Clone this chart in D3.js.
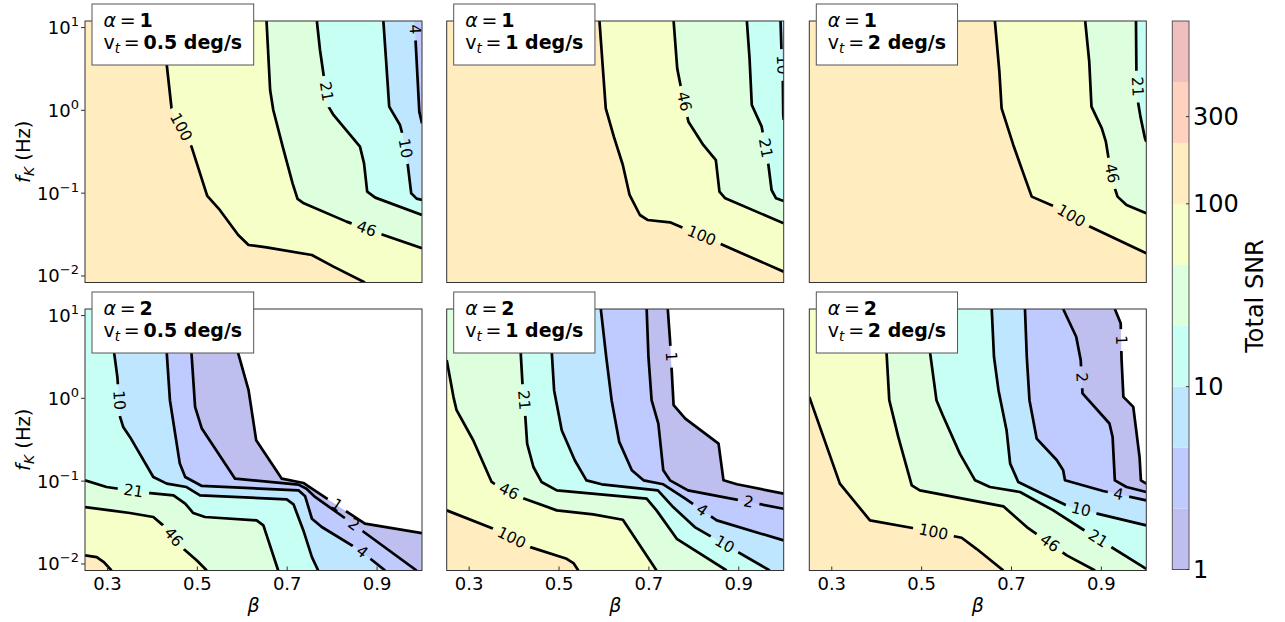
<!DOCTYPE html>
<html><head><meta charset="utf-8">
<script src="https://cdn.jsdelivr.net/npm/d3@7"></script>
<style>body{margin:0;background:#fff} svg{display:block} text{font-family:"DejaVu Sans",sans-serif}</style>
</head><body><svg id="c" width="1285" height="622"></svg>
<script>
// ---------------- data ----------------
const levels = [1, 2.154, 4.642, 10, 21.54, 46.42, 100, 215.4, 464.2, 1000];
const cbarTicks = [1, 10, 100, 300];
const betaTicks = [0.3, 0.5, 0.7, 0.9];
const fkTicks = [0.01, 0.1, 1, 10];
const fkTickExp = ["\u22122", "\u22121", "0", "1"];
const alphaVals = ["1", "1", "1", "2", "2", "2"];
const vtVals = ["0.5", "1", "2", "0.5", "1", "2"];

// contour lines: lv = index into levels, txt = inline label,
// pts = [beta, log10(fK)], lab = label position [beta, log10(fK)]
const contoursA1V05 = [
 {lv:2, txt:"4", lab:[0.988,0.978], pts:[[0.983,1.08],[0.986,0.809],[0.994,-0.016],[1.0,-0.157]]},
 {lv:3, txt:"10", lab:[0.962,-0.459], pts:[[0.914,1.08],[0.920,0.608],[0.927,0.045],[0.951,-0.177],[0.957,-0.298],[0.967,-0.599],[0.976,-1.002],[0.988,-1.066],[1.0,-1.082]]},
 {lv:4, txt:"21", lab:[0.786,0.226], pts:[[0.766,1.08],[0.773,0.729],[0.781,0.427],[0.792,0.045],[0.803,-0.056],[0.862,-0.438],[0.871,-0.640],[0.878,-0.982],[0.896,-1.054],[1.0,-1.264]]},
 {lv:5, txt:"46", lab:[0.877,-1.425], pts:[[0.654,1.08],[0.662,0.246],[0.669,0.004],[0.690,-0.438],[0.712,-0.881],[0.723,-1.070],[0.737,-1.123],[0.832,-1.344],[0.903,-1.485],[1.0,-1.666]]},
 {lv:6, txt:"100", lab:[0.465,-0.197], pts:[[0.428,1.08],[0.432,0.548],[0.443,0.004],[0.487,-0.438],[0.522,-1.034],[0.550,-1.203],[0.591,-1.505],[0.614,-1.626],[0.654,-1.654],[0.755,-1.747],[0.803,-1.887],[0.873,-2.08]]}
];
const contoursA1V1 = [
 {lv:3, txt:"10", lab:[0.992,0.548], pts:[[0.993,1.08],[0.995,0.729],[0.998,0.387],[0.999,-0.056],[1.0,-0.116]]},
 {lv:4, txt:"21", lab:[0.957,-0.458], pts:[[0.918,1.08],[0.924,0.628],[0.929,0.065],[0.951,-0.197],[0.966,-0.660],[0.973,-0.962],[0.983,-1.062],[1.0,-1.095]]},
 {lv:5, txt:"46", lab:[0.777,0.105], pts:[[0.755,1.08],[0.763,0.507],[0.771,0.286],[0.788,-0.137],[0.821,-0.418],[0.849,-0.600],[0.857,-0.982],[0.870,-1.062],[1.0,-1.364]]},
 {lv:6, txt:"100", lab:[0.818,-1.505], pts:[[0.590,1.08],[0.597,0.548],[0.604,0.024],[0.622,-0.318],[0.642,-0.660],[0.657,-1.022],[0.680,-1.264],[0.697,-1.324],[0.747,-1.352],[0.769,-1.404],[0.851,-1.594],[1.0,-1.948]]}
];
const contoursA1V2 = [
 {lv:4, txt:"21", lab:[0.979,0.286], pts:[[0.977,1.08],[0.978,0.467],[0.982,0.085],[0.987,-0.076],[0.997,-0.338],[1.0,-0.378]]},
 {lv:5, txt:"46", lab:[0.923,-0.760], pts:[[0.864,1.08],[0.873,0.588],[0.878,0.045],[0.901,-0.217],[0.910,-0.378],[0.916,-0.579],[0.930,-0.942],[0.936,-1.042],[0.956,-1.143],[1.0,-1.243]]},
 {lv:6, txt:"100", lab:[0.834,-1.264], pts:[[0.663,1.08],[0.673,0.467],[0.678,0.024],[0.704,-0.418],[0.725,-0.740],[0.745,-1.042],[0.797,-1.163],[0.867,-1.384],[1.0,-1.726]]}
];
const contoursA2V05 = [
 {lv:0, txt:"1", lab:[0.810,-1.292], pts:[[0.586,1.08],[0.591,0.543],[0.614,0.099],[0.631,-0.506],[0.688,-0.970],[0.736,-1.022],[0.755,-1.091],[0.873,-1.514],[1.0,-1.627]]},
 {lv:1, txt:"2", lab:[0.844,-1.554], pts:[[0.485,1.08],[0.487,0.543],[0.495,-0.103],[0.510,-0.365],[0.584,-0.970],[0.725,-1.042],[0.743,-1.091],[0.762,-1.191],[0.825,-1.433],[0.988,-2.08]]},
 {lv:2, txt:"4", lab:[0.866,-1.857], pts:[[0.430,1.08],[0.432,0.543],[0.439,-0.022],[0.461,-0.788],[0.473,-0.950],[0.510,-1.058],[0.725,-1.111],[0.740,-1.183],[0.755,-1.454],[0.777,-1.554],[0.862,-1.837],[0.918,-2.08]]},
 {lv:3, txt:"10", lab:[0.324,-0.022], pts:[[0.309,1.08],[0.315,0.543],[0.322,0.260],[0.328,-0.224],[0.335,-0.345],[0.350,-0.466],[0.402,-0.950],[0.432,-1.030],[0.476,-1.071],[0.506,-1.171],[0.699,-1.220],[0.714,-1.280],[0.736,-1.595],[0.755,-1.917],[0.769,-2.08]]},
 {lv:4, txt:"21", lab:[0.358,-1.111], pts:[[0.25,-0.990],[0.298,-1.071],[0.384,-1.139],[0.447,-1.171],[0.473,-1.272],[0.491,-1.385],[0.517,-1.433],[0.632,-1.474],[0.647,-1.534],[0.680,-2.08]]},
 {lv:5, txt:"46", lab:[0.447,-1.675], pts:[[0.25,-1.313],[0.306,-1.353],[0.350,-1.385],[0.402,-1.433],[0.424,-1.534],[0.469,-1.817],[0.499,-1.958],[0.521,-2.08]]},
 {lv:6, txt:null, lab:null, pts:[[0.25,-1.897],[0.276,-1.918],[0.292,-1.978],[0.309,-2.08]]}
];
const contoursA2V1 = [
 {lv:0, txt:"1", lab:[0.747,0.502], pts:[[0.742,1.08],[0.747,0.704],[0.755,-0.083],[0.781,-0.244],[0.855,-0.546],[0.866,-0.990],[0.896,-1.038],[1.0,-1.151]]},
 {lv:1, txt:"2", lab:[0.922,-1.252], pts:[[0.695,1.08],[0.699,0.502],[0.706,-0.022],[0.721,-0.304],[0.732,-0.869],[0.747,-0.990],[0.787,-1.111],[1.0,-1.333]]},
 {lv:2, txt:"4", lab:[0.818,-1.353], pts:[[0.593,1.08],[0.605,0.502],[0.617,-0.022],[0.634,-0.526],[0.662,-0.869],[0.688,-0.990],[0.732,-1.038],[0.781,-1.212],[0.851,-1.474],[1.0,-1.716]]},
 {lv:3, txt:"10", lab:[0.869,-1.756], pts:[[0.480,1.08],[0.484,0.543],[0.489,0.099],[0.506,-0.385],[0.535,-0.748],[0.561,-0.990],[0.595,-1.038],[0.720,-1.111],[0.754,-1.313],[0.802,-1.555],[0.969,-2.08]]},
 {lv:4, txt:"21", lab:[0.419,-0.022], pts:[[0.412,1.08],[0.415,0.522],[0.419,0.139],[0.425,-0.224],[0.429,-0.546],[0.443,-0.829],[0.461,-1.010],[0.495,-1.111],[0.695,-1.212],[0.717,-1.353],[0.762,-1.696],[0.873,-2.08]]},
 {lv:5, txt:"46", lab:[0.389,-1.119], pts:[[0.25,0.462],[0.265,0.018],[0.272,-0.143],[0.309,-0.506],[0.350,-1.010],[0.365,-1.063],[0.417,-1.200],[0.495,-1.353],[0.576,-1.401],[0.642,-1.466],[0.658,-1.595],[0.717,-2.08]]},
 {lv:6, txt:"100", lab:[0.395,-1.676], pts:[[0.25,-1.353],[0.354,-1.575],[0.436,-1.797],[0.517,-1.938],[0.532,-1.990],[0.543,-2.08]]}
];
const contoursA2V2 = [
 {lv:0, txt:"1", lab:[0.942,0.704], pts:[[0.930,1.08],[0.943,0.906],[0.945,0.462],[0.949,0.018],[0.971,-0.103],[0.985,-0.708],[0.988,-0.990],[1.0,-1.030]]},
 {lv:1, txt:"2", lab:[0.851,0.252], pts:[[0.815,1.08],[0.844,0.744],[0.854,0.462],[0.858,0.059],[0.918,-0.304],[0.925,-0.466],[0.930,-0.990],[0.956,-1.071],[1.0,-1.131]]},
 {lv:2, txt:"4", lab:[0.938,-1.159], pts:[[0.730,1.08],[0.734,0.502],[0.740,-0.022],[0.756,-0.486],[0.801,-0.748],[0.815,-0.869],[0.819,-0.990],[0.904,-1.119],[1.0,-1.232]]},
 {lv:3, txt:"10", lab:[0.854,-1.361], pts:[[0.656,1.08],[0.661,0.502],[0.671,0.099],[0.689,-0.385],[0.697,-0.788],[0.715,-1.010],[0.771,-1.159],[0.830,-1.313],[1.0,-1.534]]},
 {lv:4, txt:"21", lab:[0.890,-1.716], pts:[[0.515,1.08],[0.519,0.543],[0.533,-0.022],[0.547,-0.204],[0.585,-0.667],[0.619,-0.990],[0.652,-1.071],[0.719,-1.131],[0.793,-1.353],[0.860,-1.587],[1.0,-2.059]]},
 {lv:5, txt:"46", lab:[0.784,-1.756], pts:[[0.420,1.08],[0.422,0.543],[0.428,-0.022],[0.448,-0.466],[0.478,-1.050],[0.496,-1.111],[0.682,-1.304],[0.734,-1.555],[0.823,-1.897],[0.886,-2.08]]},
 {lv:6, txt:"100", lab:[0.526,-1.623], pts:[[0.25,0.018],[0.318,-1.030],[0.385,-1.474],[0.489,-1.575],[0.589,-1.684],[0.622,-1.817],[0.682,-2.08]]}
];
const allContours = [contoursA1V05, contoursA1V1, contoursA1V2, contoursA2V05, contoursA2V1, contoursA2V2];

// ---------------- layout / style ----------------
const colX = [85, 446.7, 809.3], rowY = [21, 309], PW = 337, PH = 261.5;
const xDom = [0.25, 1.0], yDom = [1/120, 12];
const ALPHA = 0.25;

function jet(t){
  const seg = pts => { for (let i=0;i<pts.length-1;i++){ const [a,va]=pts[i],[b,vb]=pts[i+1]; if (t>=a && t<=b) return va+(vb-va)*(t-a)/(b-a);} return pts[pts.length-1][1]; };
  return [seg([[0,0],[0.35,0],[0.66,1],[0.89,1],[1,0.5]]),
          seg([[0,0],[0.125,0],[0.375,1],[0.64,1],[0.91,0],[1,0]]),
          seg([[0,0.5],[0.11,1],[0.34,1],[0.65,0],[1,0]])];
}
function bandColor(i){
  const c = jet((i+0.5)/(levels.length-1));
  const f = v => Math.round(255*(1-ALPHA) + 255*ALPHA*v);
  return `rgb(${f(c[0])},${f(c[1])},${f(c[2])})`;
}

const svg = d3.select("#c");
const defs = svg.append("defs");

allContours.forEach((contours, idx) => {
  const col = idx % 3, row = Math.floor(idx / 3);
  const x0 = colX[col], y0 = rowY[row], x1 = x0 + PW, y1 = y0 + PH;
  const xs = d3.scaleLinear().domain(xDom).range([x0, x1]).clamp(true);
  const ys = d3.scaleLog().domain(yDom).range([y1, y0]).clamp(true);
  const P = p => [xs(p[0]), ys(Math.pow(10, p[1]))];

  defs.append("clipPath").attr("id", "clip" + idx)
    .append("rect").attr("x", x0).attr("y", y0).attr("width", PW).attr("height", PH);
  const g = svg.append("g").attr("clip-path", `url(#clip${idx})`);
  const minLv = d3.min(contours, c => c.lv);
  g.append("rect").attr("x", x0).attr("y", y0).attr("width", PW).attr("height", PH)
    .attr("fill", minLv > 0 ? bandColor(minLv - 1) : "#fff");

  const corners = [[x0,y0],[x1,y0],[x1,y1],[x0,y1]];
  const perim = ([x,y]) => {
    const d = [Math.abs(y-y0), Math.abs(x-x1), Math.abs(y-y1), Math.abs(x-x0)];
    const e = d.indexOf(Math.min(...d));
    if (e === 0) return (x-x0)/PW;
    if (e === 1) return 1 + (y-y0)/PH;
    if (e === 2) return 2 + (x1-x)/PW;
    return 3 + (y1-y)/PH;
  };
  const sorted = contours.slice().sort((a,b) => a.lv - b.lv);
  sorted.forEach(c => {
    const pts = c.pts.map(P);
    const tE = perim(pts[pts.length-1]);
    let tS = perim(pts[0]); if (tS <= tE) tS += 4;
    const poly = pts.slice();
    for (let k = Math.floor(tE) + 1; k < tS; k++) poly.push(corners[k % 4]);
    g.append("path").attr("d", "M" + poly.map(p => p.join(",")).join("L") + "Z")
      .attr("fill", bandColor(c.lv));
  });

  const line = d3.line();
  sorted.forEach((c, j) => {
    const pts = c.pts.map(P);
    const mid = `mask${idx}_${j}`;
    const mask = defs.append("mask").attr("id", mid).attr("maskUnits", "userSpaceOnUse")
      .attr("x", 0).attr("y", 0).attr("width", 1285).attr("height", 622);
    mask.append("rect").attr("x", 0).attr("y", 0).attr("width", 1285).attr("height", 622).attr("fill", "#fff");
    g.append("path").attr("d", line(pts)).attr("fill", "none").attr("stroke", "#000")
      .attr("stroke-width", 2.7).attr("stroke-linejoin", "round").attr("mask", `url(#${mid})`);
    if (c.lab) {
      const L = P(c.lab);
      let best = null;
      for (let i = 0; i < pts.length - 1; i++) {
        const a = pts[i], b = pts[i+1], dx = b[0]-a[0], dy = b[1]-a[1], l2 = dx*dx + dy*dy;
        let t = l2 ? ((L[0]-a[0])*dx + (L[1]-a[1])*dy) / l2 : 0;
        t = Math.max(0, Math.min(1, t));
        const q = [a[0]+t*dx, a[1]+t*dy], d = (q[0]-L[0])**2 + (q[1]-L[1])**2;
        if (!best || d < best.d) best = {d, q, ang: Math.atan2(dy, dx) * 180 / Math.PI};
      }
      let ang = best.ang; if (ang > 90) ang -= 180; if (ang <= -90) ang += 180;
      const tr = `translate(${best.q[0]},${best.q[1]}) rotate(${ang})`;
      const t = g.append("text").attr("transform", tr).attr("text-anchor", "middle")
        .attr("dominant-baseline", "central").attr("font-size", 15.5).attr("fill", "#000").text(c.txt);
      const tw = t.node().getComputedTextLength();
      mask.append("rect").attr("x", -tw/2 - 6).attr("y", -8).attr("width", tw + 12).attr("height", 16)
        .attr("transform", tr).attr("fill", "#000");
    }
  });

  svg.append("rect").attr("x", x0).attr("y", y0).attr("width", PW).attr("height", PH)
    .attr("fill", "none").attr("stroke", "#333").attr("stroke-width", 1);

  // axes
  if (row === 1) {
    betaTicks.forEach(v => {
      svg.append("line").attr("x1", xs(v)).attr("x2", xs(v)).attr("y1", y1).attr("y2", y1 - 4)
        .attr("stroke", "#333").attr("stroke-width", 1);
      svg.append("text").attr("x", xs(v)).attr("y", 589.5).attr("text-anchor", "middle")
        .attr("font-size", 18).text(d3.format(".1f")(v));
    });
    svg.append("text").attr("x", (x0 + x1) / 2).attr("y", 612).attr("text-anchor", "middle")
      .attr("font-size", 19).attr("font-style", "italic").text("β");
  }
  if (col === 0) {
    fkTicks.forEach((v, i) => {
      svg.append("line").attr("x1", x0 - 4).attr("x2", x0).attr("y1", ys(v)).attr("y2", ys(v))
        .attr("stroke", "#333").attr("stroke-width", 1);
      const t = svg.append("text").attr("x", x0 - 6).attr("y", ys(v) + 6.5).attr("text-anchor", "end").attr("font-size", 18);
      t.append("tspan").text("10");
      t.append("tspan").attr("font-size", 13).attr("dy", -8).text(fkTickExp[i]);
    });
    const t = svg.append("text").attr("transform", `translate(30,${(y0 + y1) / 2}) rotate(-90)`)
      .attr("text-anchor", "middle").attr("font-size", 19.5);
    t.append("tspan").attr("font-style", "italic").text("f");
    t.append("tspan").attr("font-style", "italic").attr("font-size", 14).attr("dy", 4).text("K");
    t.append("tspan").attr("dy", -4).text(" (Hz)");
  }

  // annotation box
  const bg = svg.append("g");
  const bx = x0 + 7, tx = bx + 11.5;
  const rect = bg.append("rect");
  const t1 = bg.append("text").attr("x", tx).attr("y", y0 + 6).attr("font-size", 19);
  t1.append("tspan").attr("font-style", "italic").text("α");
  t1.append("tspan").text("\u2009=\u2009");
  t1.append("tspan").attr("font-weight", "bold").text(alphaVals[idx]);
  const t2 = bg.append("text").attr("x", tx).attr("y", y0 + 27.5).attr("font-size", 19);
  t2.append("tspan").text("v");
  t2.append("tspan").attr("font-style", "italic").attr("font-size", 13.5).attr("dy", 4).text("t");
  t2.append("tspan").attr("dy", -4).text("\u2009=\u2009");
  t2.append("tspan").attr("font-weight", "bold").text(vtVals[idx] + " deg/s");
  const w = Math.max(t1.node().getBBox().width, t2.node().getBBox().width);
  rect.attr("x", bx).attr("y", y0 - 17).attr("width", w + 23).attr("height", 61)
    .attr("fill", "#fff").attr("stroke", "#555").attr("stroke-width", 1);
});

// ---------------- colorbar ----------------
const cbX = 1172.3, cbW = 16.7;
const cs = d3.scaleLog().domain([levels[0], levels[levels.length-1]]).range([569.5, 21]);
for (let i = 0; i < levels.length - 1; i++) {
  svg.append("rect").attr("x", cbX).attr("y", cs(levels[i+1])).attr("width", cbW)
    .attr("height", cs(levels[i]) - cs(levels[i+1])).attr("fill", bandColor(i));
}
svg.append("rect").attr("x", cbX).attr("y", 21).attr("width", cbW).attr("height", 548.5)
  .attr("fill", "none").attr("stroke", "#555").attr("stroke-width", 1);
cbarTicks.forEach(v => {
  svg.append("line").attr("x1", cbX + cbW - 3).attr("x2", cbX + cbW).attr("y1", cs(v)).attr("y2", cs(v))
    .attr("stroke", "#333").attr("stroke-width", 1);
  svg.append("text").attr("x", 1193).attr("y", cs(v) + 8.5).attr("font-size", 24).text(v);
});
svg.append("text").attr("transform", "translate(1263,296) rotate(-90)").attr("text-anchor", "middle")
  .attr("font-size", 24).text("Total SNR");
</script></body></html>
